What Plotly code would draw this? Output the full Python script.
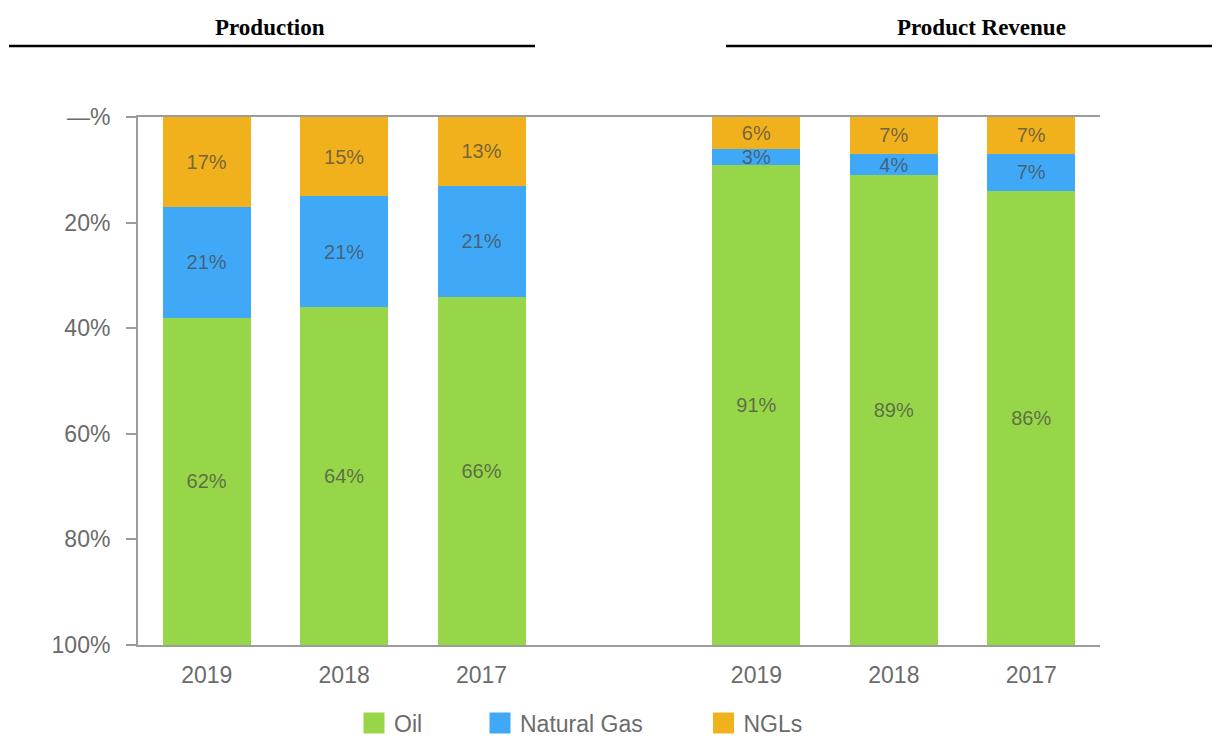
import plotly.graph_objects as go

# ---- data ----
years = ["2019", "2018", "2017"]
prod_ngl = [17, 15, 13]
prod_gas = [21, 21, 21]
prod_oil = [62, 64, 66]
rev_ngl = [6, 7, 7]
rev_gas = [3, 4, 7]
rev_oil = [91, 89, 86]
y_ticks = [0, 20, 40, 60, 80, 100]
y_ticktext = ["—%", "20%", "40%", "60%", "80%", "100%"]
series_names = ["Oil", "Natural Gas", "NGLs"]

# ---- styling ----
C_OIL = "#97d648"
C_GAS = "#40a9f7"
C_NGL = "#f1b11c"
AXIS_C = "#9c9c9c"
TXT_C = "#6b6b6b"
LBL_C = "rgba(70,70,70,0.72)"

OFF = 8  # default body margin of the html page
W, H = 1220 - OFF, 739 - OFF
ML, MT = 138 - OFF, 117 - OFF
MR, MB = 120, 94
PW, PH = W - ML - MR, H - MT - MB


def px_x(p):
    """screen pixel -> paper x"""
    return (p - OFF - ML) / PW


def px_y(p):
    """screen pixel -> paper y"""
    return 1 - (p - OFF - MT) / PH


def cx(p):
    """screen pixel -> container x"""
    return (p - OFF) / W


def cy(p):
    """screen pixel -> container y"""
    return 1 - (p - OFF) / H


x_prod = list(range(len(years)))
x_rev = [i + len(years) + 1 for i in range(len(years))]
x_all = x_prod + x_rev
labels_all = years + years

fig = go.Figure()


def add_bar(vals, color, name):
    fig.add_trace(go.Bar(
        x=x_all, y=vals, name=name, marker=dict(color=color, line=dict(width=0)),
        width=0.64, text=[f"{v}%" for v in vals], textposition="inside",
        insidetextanchor="middle", textangle=0,
        textfont=dict(family="Liberation Sans, Arial", size=20, color=LBL_C),
        showlegend=False, hoverinfo="skip",
    ))


add_bar(prod_ngl + rev_ngl, C_NGL, "NGLs")
add_bar(prod_gas + rev_gas, C_GAS, "Natural Gas")
add_bar(prod_oil + rev_oil, C_OIL, "Oil")

legend_ids = ["legend", "legend2", "legend3"]
legend_x = [354, 480, 703.5]
for name, col, lid in zip(series_names, [C_OIL, C_GAS, C_NGL], legend_ids):
    fig.add_trace(go.Scatter(
        x=[None], y=[None], mode="markers", name=name, legend=lid,
        marker=dict(symbol="square", size=16, color=col, line=dict(color=col, width=5)),
        showlegend=True,
    ))

legend_common = dict(orientation="h", xanchor="left", yanchor="middle",
                     xref="container", yref="container",
                     font=dict(size=23, color=TXT_C), bgcolor="rgba(0,0,0,0)")
legends = {}
for lid, lx in zip(legend_ids, legend_x):
    legends[lid] = dict(legend_common, x=cx(lx), y=cy(723))

fig.update_layout(
    width=W, height=H,
    margin=dict(l=ML, r=MR, t=MT, b=MB, pad=0, autoexpand=False),
    paper_bgcolor="white", plot_bgcolor="white",
    barmode="stack",
    uniformtext=dict(minsize=20, mode="show"),
    font=dict(family="Liberation Sans, Arial", color=TXT_C),
    xaxis=dict(
        range=[-0.5, len(x_all) + 0.5], tickmode="array", tickvals=x_all, ticktext=labels_all,
        showline=True, mirror=True, linecolor=AXIS_C, linewidth=2, ticks="",
        showgrid=False, zeroline=False, tickfont=dict(size=23, color=TXT_C),
        ticklabelstandoff=8,
    ),
    yaxis=dict(
        range=[100, 0], tickmode="array", tickvals=y_ticks, ticktext=y_ticktext,
        showline=True, linecolor=AXIS_C, linewidth=2, ticks="outside", ticklen=10,
        tickcolor=AXIS_C, tickwidth=2, showgrid=False, zeroline=False,
        tickfont=dict(size=23, color=TXT_C), ticklabelstandoff=11,
    ),
    annotations=[
        dict(text="<b>Production</b>", xref="paper", yref="paper", x=px_x(270), y=px_y(27),
             xanchor="center", yanchor="middle", showarrow=False,
             font=dict(family="Liberation Serif, Times New Roman", size=23, color="black")),
        dict(text="<b>Product Revenue</b>", xref="paper", yref="paper", x=px_x(981), y=px_y(27),
             xanchor="center", yanchor="middle", showarrow=False,
             font=dict(family="Liberation Serif, Times New Roman", size=23, color="black")),
    ],
    shapes=[
        dict(type="line", xref="paper", yref="paper", x0=px_x(9), x1=px_x(535),
             y0=px_y(46), y1=px_y(46), line=dict(color="black", width=2.5)),
        dict(type="line", xref="paper", yref="paper", x0=px_x(726), x1=px_x(1220),
             y0=px_y(46), y1=px_y(46), line=dict(color="black", width=2.5)),
    ],
)
fig.update_layout(**legends)

fig.write_html("out.html")
